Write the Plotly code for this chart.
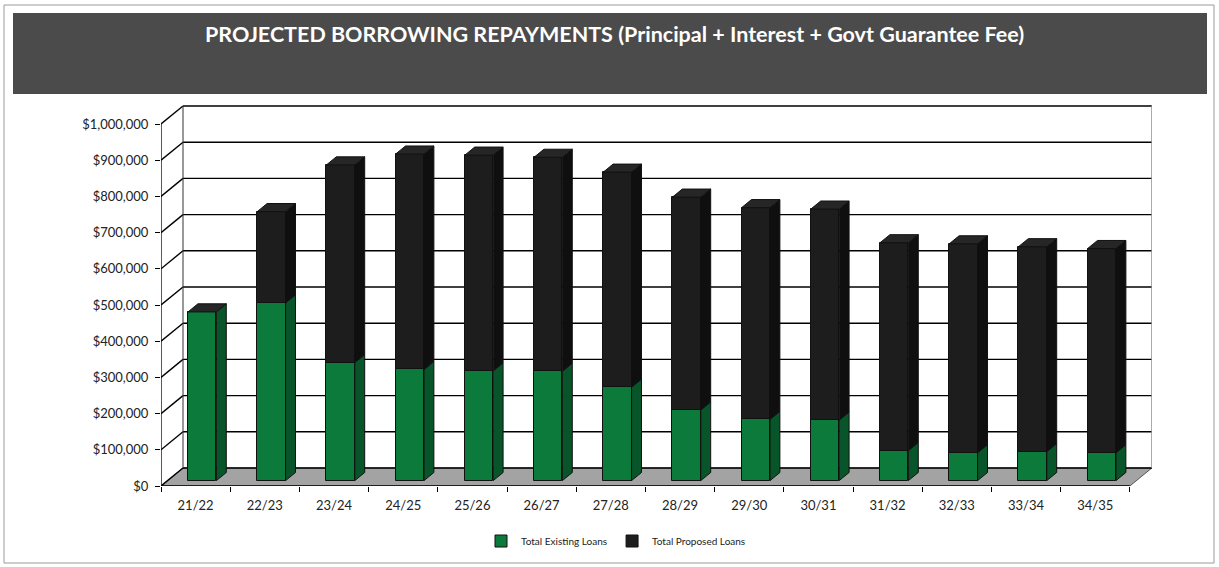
import plotly.graph_objects as go

# ---- data -------------------------------------------------------------
years = ["21/22", "22/23", "23/24", "24/25", "25/26", "26/27", "27/28",
         "28/29", "29/30", "30/31", "31/32", "32/33", "33/34", "34/35"]
existing_loans = [466000, 491000, 326000, 307000, 303000, 302000, 258000,
                  195000, 169000, 167000, 83000, 77000, 80000, 77000]
proposed_loans = [0, 252000, 546000, 595000, 596000, 591000, 594000,
                  588000, 585000, 583000, 574000, 577000, 566000, 564000]
y_ticks = list(range(0, 1000001, 100000))
y_tick_text = ["${:,}".format(v) for v in y_ticks]

# ---- page geometry ----------------------------------------------------
W, H = 1219, 567
L, R, T, B = 161, 67, 105, 81
PW, PH = W - L - R, H - T - B
n = len(years)
x_max = PW / 69.2                  # category units across the plot area
y_max = PH / 362.0 * 1_000_000      # value units up the plot area

# oblique projection used for the 3D look (in axis units)
DX = 22 / 69.2                      # full wall depth, horizontal
DY = 18 / 362.0 * 1_000_000         # full wall depth, vertical
F1, F2 = 0.30, 0.75                 # bar front / back planes as depth fractions
BAR_W = 0.41

GREEN, GREEN_SIDE = "#0c7a3a", "#09552a"
BLACK, BLACK_SIDE, BLACK_TOP = "#1d1d1d", "#0f0f0f", "#262626"
EDGE = "#111111"


def px_x(p):
    return (p - L) / PW


def px_y(p):
    return (H - B - p) / PH


fig = go.Figure()

# ---- walls, floor and gridlines ---------------------------------------
shapes = []
# floor
shapes.append(dict(type="path", xref="x", yref="y", layer="below",
                   path=f"M0,0 L{n},0 L{n + DX},{DY} L{DX},{DY} Z",
                   fillcolor="#a3a3a3", line=dict(color="#555", width=1)))
for v in y_ticks:
    # back wall gridline
    shapes.append(dict(type="line", xref="x", yref="y", layer="below",
                       x0=DX, x1=n + DX, y0=v + DY, y1=v + DY,
                       line=dict(color="#000", width=1.4)))
    # side wall diagonal
    shapes.append(dict(type="line", xref="x", yref="y", layer="below",
                       x0=0, x1=DX, y0=v, y1=v + DY,
                       line=dict(color="#000", width=1.4)))
# wall edges
shapes.append(dict(type="line", xref="x", yref="y", layer="below",
                   x0=DX, x1=DX, y0=DY, y1=y_ticks[-1] + DY,
                   line=dict(color="#333", width=1)))
shapes.append(dict(type="line", xref="x", yref="y", layer="below",
                   x0=n + DX, x1=n + DX, y0=DY, y1=y_ticks[-1] + DY,
                   line=dict(color="#888", width=1)))
# front axis lines
shapes.append(dict(type="line", xref="x", yref="y", layer="above",
                   x0=0, x1=0, y0=0, y1=y_ticks[-1],
                   line=dict(color="#000", width=1.3)))
shapes.append(dict(type="line", xref="x", yref="y", layer="above",
                   x0=0, x1=n, y0=0, y1=0,
                   line=dict(color="#000", width=1.3)))

# ---- bars: front faces as bar traces ----------------------------------
centres = [i + 0.5 + F1 * DX for i in range(n)]
base0 = F1 * DY
fig.add_trace(go.Bar(
    name="Total Existing Loans", x=centres, y=existing_loans,
    base=[base0] * n, width=BAR_W,
    marker=dict(color=GREEN, line=dict(color=EDGE, width=1))))
fig.add_trace(go.Bar(
    name="Total Proposed Loans", x=centres, y=proposed_loans,
    base=[base0 + e for e in existing_loans], width=BAR_W,
    marker=dict(color=BLACK, line=dict(color=EDGE, width=1))))

# ---- bars: side and top faces -----------------------------------------
ddx, ddy = (F2 - F1) * DX, (F2 - F1) * DY


def face(xs, ys, color):
    fig.add_trace(go.Scatter(x=xs, y=ys, mode="lines", fill="toself",
                             fillcolor=color, line=dict(color=EDGE, width=1),
                             hoverinfo="skip", showlegend=False))


for i in range(n):
    xl = centres[i] - BAR_W / 2
    xr = centres[i] + BAR_W / 2
    b0 = base0
    t0 = base0 + existing_loans[i]
    t1 = t0 + proposed_loans[i]
    face([xr, xr + ddx, xr + ddx, xr, xr], [b0, b0 + ddy, t0 + ddy, t0, b0], GREEN_SIDE)
    if proposed_loans[i] > 0:
        face([xr, xr + ddx, xr + ddx, xr, xr], [t0, t0 + ddy, t1 + ddy, t1, t0], BLACK_SIDE)
    face([xl, xr, xr + ddx, xl + ddx, xl], [t1, t1, t1 + ddy, t1 + ddy, t1], BLACK_TOP)

# ---- title band and outer border --------------------------------------
shapes.append(dict(type="rect", xref="paper", yref="paper", layer="below",
                   x0=px_x(4), x1=px_x(1214), y0=px_y(563), y1=px_y(5),
                   line=dict(color="#9a9a9a", width=1), fillcolor="white"))
shapes.append(dict(type="rect", xref="paper", yref="paper", layer="below",
                   x0=px_x(13), x1=px_x(1207), y0=px_y(94), y1=px_y(13),
                   line=dict(width=0), fillcolor="#4b4b4b"))

fig.add_annotation(
    text="PROJECTED BORROWING REPAYMENTS (Principal + Interest + Govt Guarantee Fee)",
    xref="paper", yref="paper", x=px_x(614), y=px_y(34),
    xanchor="center", yanchor="middle", showarrow=False,
    font=dict(family="Lato", size=21.5, color="white", weight="bold"))

fig.update_layout(
    width=W, height=H,
    margin=dict(l=L, r=R, t=T, b=B, pad=0),
    paper_bgcolor="white", plot_bgcolor="rgba(0,0,0,0)",
    barmode="overlay", bargap=0,
    shapes=shapes,
    showlegend=True,
    legend=dict(orientation="h", x=px_x(616), xanchor="center",
                y=px_y(541), yanchor="middle",
                font=dict(family="Lato", size=10, color="#222"),
                itemwidth=30, bgcolor="rgba(0,0,0,0)"),
    font=dict(family="Lato", color="#222"),
)

fig.update_xaxes(
    range=[0, x_max], showgrid=False, zeroline=False, showline=False,
    tickmode="array", tickvals=[i + 0.5 for i in range(n)], ticktext=years,
    ticks="", tickfont=dict(size=13, color="#222"), ticklabelstandoff=10,
    minor=dict(ticks="outside", tick0=0, dtick=1, ticklen=5,
               tickcolor="#000", showgrid=False),
    fixedrange=True)
fig.update_yaxes(
    range=[0, y_max], showgrid=False, zeroline=False, showline=False,
    tickmode="array", tickvals=y_ticks, ticktext=y_tick_text,
    ticks="outside", ticklen=5, tickcolor="#000",
    tickfont=dict(size=13, color="#222"), ticklabelstandoff=4,
    fixedrange=True)

fig.write_html("out.html")
